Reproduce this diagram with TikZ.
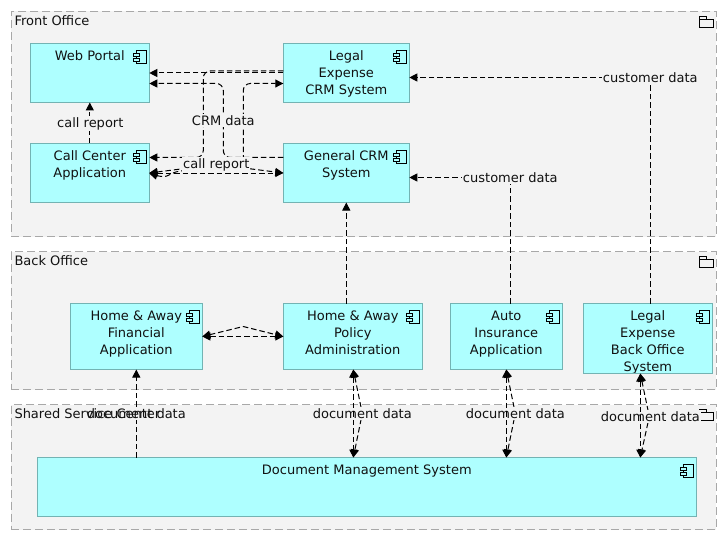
\documentclass[tikz,border=0pt]{standalone}
\usepackage{fontspec}
\setmainfont{DejaVu Sans}
\usetikzlibrary{arrows.meta,calc}
\definecolor{grpfill}{HTML}{F3F3F3}
\definecolor{grpline}{HTML}{A8A8A8}
\definecolor{boxfill}{HTML}{AEFFFF}
\definecolor{boxline}{HTML}{73B3B3}
\definecolor{ink}{HTML}{111111}
\tikzset{
  base/.style={font=\fontsize{13}{17}\selectfont,text=ink},
  grp/.style={draw=grpline,fill=grpfill,line width=1pt,dash pattern=on 8pt off 4pt,inner sep=0pt,outer sep=0pt},
  grptitle/.style={base,anchor=base west,inner sep=0pt},
  box/.style={draw=boxline,fill=boxfill,line width=1pt,inner sep=0pt,outer sep=0pt,
    path picture={\node[base,anchor=north,align=center,inner sep=0pt,draw=none,fill=none,minimum width=0pt,minimum height=0pt]
      at ([yshift=-7.5pt]path picture bounding box.north) {#1};}},
  conn/.style={draw=black,line width=1pt,dash pattern=on 5.5pt off 3pt,rounded corners=7pt},
  tip/.style={>={Triangle[length=8pt,width=8pt]}},
  lab/.style={base,fill=grpfill,inner sep=1pt},
  labclear/.style={base,inner sep=1pt},
  icon/.pic={
    \draw[black,line width=1pt] (-13,7) rectangle (-3,20);
    \draw[black,line width=1pt,fill=boxfill] (-16,10) rectangle (-10,13);
    \draw[black,line width=1pt,fill=boxfill] (-16,15) rectangle (-10,18);
  },
  folder/.pic={
    \draw[black,line width=1pt] (-17,8) rectangle (-3,16);
    \draw[black,line width=1pt] (-17,8) -- (-17,5) -- (-10,5) -- (-10,8);
  }
}
\begin{document}
\begin{tikzpicture}[x=1pt,y=-1pt,tip]
\useasboundingbox[fill=white] (0,0) rectangle (727,540);
\begin{scope}[shift={(0.3,0.5)}]
% groups
\node[grp,minimum width=705,minimum height=225] (front) at (363.5,123.5) {};
\node[grp,minimum width=705,minimum height=138] (back) at (363.5,320) {};
\node[grp,minimum width=705,minimum height=125] (shared) at (363.5,466.5) {};
\pic at (front.north east) {folder};
\pic at (back.north east) {folder};
\pic at (shared.north east) {folder};
\node[grptitle] (t1) at (14,25) {Front Office};
\node[grptitle] (t2) at (14,265) {Back Office};
% boxes
\node[box={Web Portal},minimum width=119,minimum height=59] (web) at (89.5,72.5) {};
\node[box={Legal\\Expense\\CRM System},minimum width=126,minimum height=59] (legal) at (346,72.5) {};
\node[box={Call Center\\Application},minimum width=119,minimum height=59] (call) at (89.5,172.5) {};
\node[box={General CRM\\System},minimum width=126,minimum height=59] (gen) at (346,172.5) {};
\node[box={Home \& Away\\Financial\\Application},minimum width=132,minimum height=66] (fin) at (136,336) {};
\node[box={Home \& Away\\Policy\\Administration},minimum width=139,minimum height=66] (pol) at (352.5,336) {};
\node[box={Auto\\Insurance\\Application},minimum width=112,minimum height=66] (auto) at (506,336) {};
\node[box={Legal\\Expense\\Back Office\\System},minimum width=129,minimum height=70] (lback) at (647.5,338) {};
\node[box={Document Management System},minimum width=659,minimum height=59] (dms) at (366.5,486.5) {};
\foreach \n in {web,legal,call,gen,fin,pol,auto,lback,dms}{\pic at (\n.north east) {icon};}
% named bend points
\coordinate (c1) at (203,0);
\coordinate (c2) at (223,0);
\coordinate (c3) at (243,0);
% front office connectors
\draw[conn,->] ([yshift=2pt]legal.west) -- (c1 |- 0,70.5) -- (c1 |- 0,157) -- ([yshift=15.5pt]call.east);
\draw[conn,->] (legal.west) -- (web.east);
\draw[conn,->] ([yshift=15.5pt]gen.west) -- (c2 |- 0,157) -- (c2 |- 0,83) -- ([yshift=-10.5pt]web.east);
\draw[conn,<->] ([yshift=-0.5pt]call.east) .. controls (160,176) and (165,177) .. (175,170.5) -- (c3 |- 0,169) -- (c3 |- 0,83) -- ([yshift=-10.5pt]legal.west);
\draw[conn,<->,rounded corners=0pt] (call.east) -- (216,164) -- (gen.west);
\draw[conn,<->,rounded corners=0pt] (call.east) -- (gen.west);
\draw[conn,->,rounded corners=0pt] (call.north) -- (web.south);
\node[lab] (l1) at (90,123) {call report};
\node[lab] (l2) at (223,120) {CRM data};
\node[lab] (l3) at (216,164) {call report};
% customer data
\draw[conn,->,rounded corners=0pt] (pol.north -| gen.south) -- (gen.south);
\draw[conn,->,rounded corners=0pt] ([xshift=4pt]auto.north) -- ([xshift=4pt,yshift=-4.5pt]auto.north |- gen.east) -- ([yshift=-4.5pt]gen.east);
\node[lab] (l4) at (510,177) {customer data};
\draw[conn,->,rounded corners=0pt] ([xshift=2.5pt]lback.north) -- ([xshift=2.5pt,yshift=-4.5pt]lback.north |- legal.east) -- ([yshift=-4.5pt]legal.east);
\node[lab] (l5) at (650,77) {customer data};
% back office pair
\draw[conn,<->,rounded corners=0pt] (fin.east) -- (243,326) -- (pol.west);
\draw[conn,<->,rounded corners=0pt] (fin.east) -- (pol.west);
% document data
\draw[conn,->,rounded corners=0pt] (fin.south |- dms.north) -- (fin.south);
\node[lab] (l6) at (136,413) {\phantom{document data}};
\node[grptitle] (t3) at (14,417.5) {Shared Service Center};
\node[labclear] (l6b) at (136,413) {document data};
\draw[conn,<->,rounded corners=0pt] (353,369) -- (362,413) -- (353,457);
\node[lab] (l7) at (362,413) {document data};
\draw[conn,<->,rounded corners=0pt] (pol.south -| 353,0) -- (dms.north -| 353,0);
\draw[conn,<->,rounded corners=0pt] (506,369) -- (515,413) -- (506,457);
\node[lab] (l8) at (515,413) {document data};
\draw[conn,<->,rounded corners=0pt] (auto.south) -- (dms.north -| auto.south);
\draw[conn,<->,rounded corners=0pt] (640,373) -- (649,416) -- (640,457);
\node[lab] (l9) at (650,416) {document data};
\draw[conn,<->,rounded corners=0pt] (lback.south -| 640,0) -- (dms.north -| 640,0);
\end{scope}
\end{tikzpicture}
\end{document}
